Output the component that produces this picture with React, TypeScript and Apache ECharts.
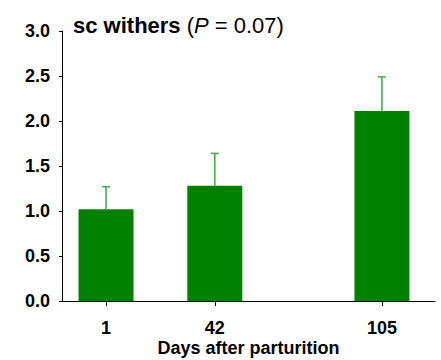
import React, { useEffect, useRef } from "react";
import * as echarts from "echarts";

const days = [1, 42, 105];
const means = [1.02, 1.28, 2.11];
const sems = [0.25, 0.36, 0.38];
const yTicks = [0, 0.5, 1.0, 1.5, 2.0, 2.5, 3.0];

const FONT = "'Liberation Sans', Arial, sans-serif";

export default function App() {
  const ref = useRef<HTMLDivElement>(null);
  useEffect(() => {
    if (!ref.current) return;
    const chart = echarts.init(ref.current, null, { renderer: "svg" });
    const barData = days.map((d, i) => [d, means[i]]);
    const errData = days.map((d, i) => [d, means[i], means[i] + sems[i]]);
    chart.setOption({
      animation: false,
      textStyle: { fontFamily: FONT },
      grid: { left: 62, right: 6, top: 31, bottom: 59, containLabel: false, outerBoundsMode: "none" },
      xAxis: {
        type: "value",
        min: -15.6,
        max: 125,
        name: "Days after parturition",
        nameLocation: "middle",
        nameGap: 38,
        nameMoveOverlap: false,
        nameTextStyle: { fontFamily: FONT, fontWeight: "bold", fontSize: 18, color: "#000" },
        axisLine: { show: true, onZero: false, lineStyle: { color: "#000", width: 1 } },
        axisTick: { show: true, length: 5, customValues: days, lineStyle: { color: "#000" } },
        axisLabel: {
          customValues: days,
          margin: 18,
          fontFamily: FONT,
          fontWeight: "bold",
          fontSize: 18,
          color: "#000",
        },
        splitLine: { show: false },
      },
      yAxis: {
        type: "value",
        min: 0,
        max: 3,
        interval: 0.5,
        axisLine: { show: true, onZero: false, lineStyle: { color: "#000", width: 1 } },
        axisTick: { show: true, length: 3, customValues: yTicks, lineStyle: { color: "#000" } },
        axisLabel: {
          margin: 12,
          fontFamily: FONT,
          fontWeight: "bold",
          fontSize: 18,
          color: "#000",
          formatter: (v: number) => v.toFixed(1),
        },
        splitLine: { show: false },
      },
      graphic: [
        {
          type: "text",
          left: 73,
          top: 14,
          style: {
            text: "{b|sc withers} {n|(}{i|P}{n| = 0.07)}",
            rich: {
              b: { fontFamily: FONT, fontWeight: "bold", fontSize: 22, fill: "#000" },
              n: { fontFamily: FONT, fontSize: 22, fill: "#000" },
              i: { fontFamily: FONT, fontStyle: "italic", fontSize: 22, fill: "#000" },
            },
            font: `bold 22px ${FONT}`,
          },
        },
      ],
      series: [
        {
          type: "bar",
          data: barData,
          barWidth: 55,
          itemStyle: { color: "#008000" },
          z: 2,
        },
        {
          type: "custom",
          data: errData,
          z: 3,
          renderItem: (params: any, api: any) => {
            const x = api.value(0);
            const lo = api.coord([x, api.value(1)]);
            const hi = api.coord([x, api.value(2)]);
            const style = { stroke: "#4fae4f", lineWidth: 1.6 };
            return {
              type: "group",
              children: [
                { type: "line", shape: { x1: lo[0], y1: lo[1], x2: hi[0], y2: hi[1] }, style },
                { type: "line", shape: { x1: hi[0] - 4, y1: hi[1], x2: hi[0] + 4, y2: hi[1] }, style },
              ],
            };
          },
        },
      ],
    });
    return () => chart.dispose();
  }, []);
  return (
    <div
      ref={ref}
      style={{ position: "absolute", left: 0, top: 0, width: 441, height: 360, background: "#fff" }}
    />
  );
}
